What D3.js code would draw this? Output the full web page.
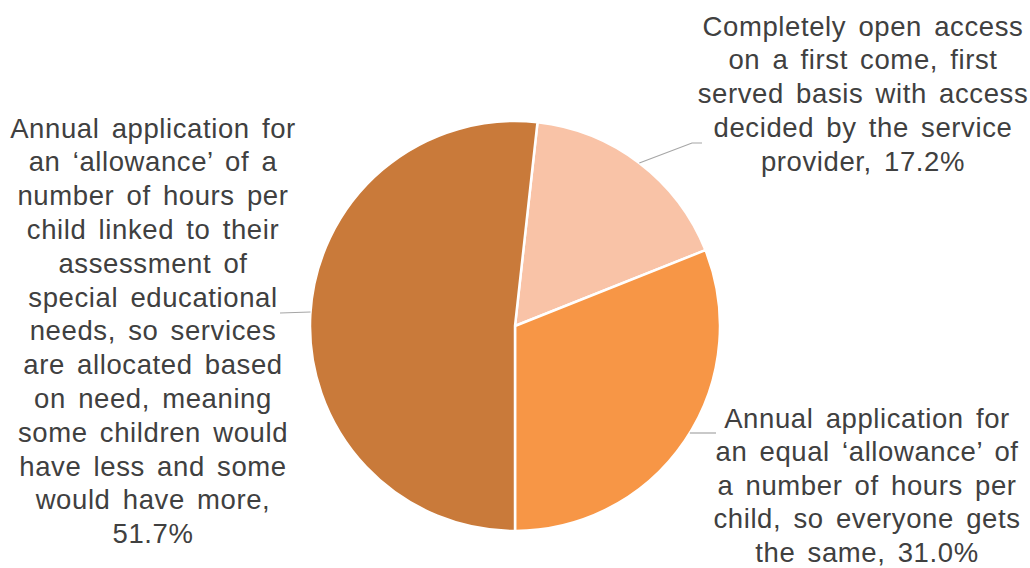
<!DOCTYPE html>
<html>
<head>
<meta charset="utf-8">
<script src="https://cdn.jsdelivr.net/npm/d3@7"></script>
<style>
  html, body { margin: 0; padding: 0; background: #ffffff; }
  svg { display: block; }
</style>
</head>
<body>
<svg id="chart" width="1030" height="568"></svg>
<script>
// Allocation options and the share of responses for each
const categories = [
  "Completely open access on a first come, first served basis with access decided by the service provider",
  "Annual application for an equal \u2018allowance\u2019 of a number of hours per child, so everyone gets the same",
  "Annual application for an \u2018allowance\u2019 of a number of hours per child linked to their assessment of special educational needs, so services are allocated based on need, meaning some children would have less and some would have more"
];
const values = [17.2, 31.0, 51.7];
const colors = ["#F9C3A7", "#F79646", "#C97A3A"];

// Wrapped label lines (category text followed by the value)
const labelLines = [
  ["Completely open access", "on a first come, first", "served basis with access", "decided by the service", "provider, 17.2%"],
  ["Annual application for", "an equal \u2018allowance\u2019 of", "a number of hours per", "child, so everyone gets", "the same, 31.0%"],
  ["Annual application for", "an \u2018allowance\u2019 of a", "number of hours per", "child linked to their", "assessment of", "special educational", "needs, so services", "are allocated based", "on need, meaning", "some children would", "have less and some", "would have more,", "51.7%"]
];

const svg = d3.select("#chart");
const cx = 515, cy = 326, r = 205;
const startAngle = 6.3 * Math.PI / 180;

const pie = d3.pie().sort(null).value(d => d)
  .startAngle(startAngle).endAngle(startAngle + 2 * Math.PI);
const arcs = pie(values);
const arc = d3.arc().innerRadius(0).outerRadius(r);

const g = svg.append("g").attr("transform", `translate(${cx},${cy})`);
g.selectAll("path.slice")
  .data(arcs)
  .join("path")
  .attr("class", "slice")
  .attr("d", arc)
  .attr("fill", (d, i) => colors[i])
  .attr("stroke", "#ffffff")
  .attr("stroke-width", 2.5)
  .attr("stroke-linejoin", "round");

// Label blocks: centre x, first-line centre y, line step
const labelPos = [
  { x: 863, y: 26, step: 33.8 },
  { x: 867, y: 418, step: 33.6 },
  { x: 153, y: 128, step: 33.8 }
];

labelLines.forEach((lines, i) => {
  const t = svg.append("text")
    .attr("text-anchor", "middle")
    .attr("font-family", "'Liberation Sans', Arial, sans-serif")
    .attr("font-size", 27.5)
    .attr("letter-spacing", 0.6)
    .attr("word-spacing", 4)
    .attr("fill", "#404040");
  lines.forEach((ln, k) => {
    t.append("tspan")
      .attr("x", labelPos[i].x)
      .attr("y", labelPos[i].y + k * labelPos[i].step)
      .attr("dy", "0.35em")
      .text(ln);
  });
});

// Leader lines from the slice rim to each label
function edgePoint(a, y) {
  const mid = (a.startAngle + a.endAngle) / 2;
  const side = Math.sin(mid) >= 0 ? 1 : -1;
  const dy = y - cy;
  return [cx + side * Math.sqrt(Math.max(0, r * r - dy * dy)), y];
}
const leaders = [
  [edgePoint(arcs[0], 163), [692, 143], [702, 143]],
  [edgePoint(arcs[1], 433), [716, 433]],
  [edgePoint(arcs[2], 312), [280, 313]]
];
const line = d3.line();
svg.selectAll("path.leader")
  .data(leaders)
  .join("path")
  .attr("class", "leader")
  .attr("d", d => line(d))
  .attr("fill", "none")
  .attr("stroke", "#A6A6A6")
  .attr("stroke-width", 1.2);
</script>
</body>
</html>
